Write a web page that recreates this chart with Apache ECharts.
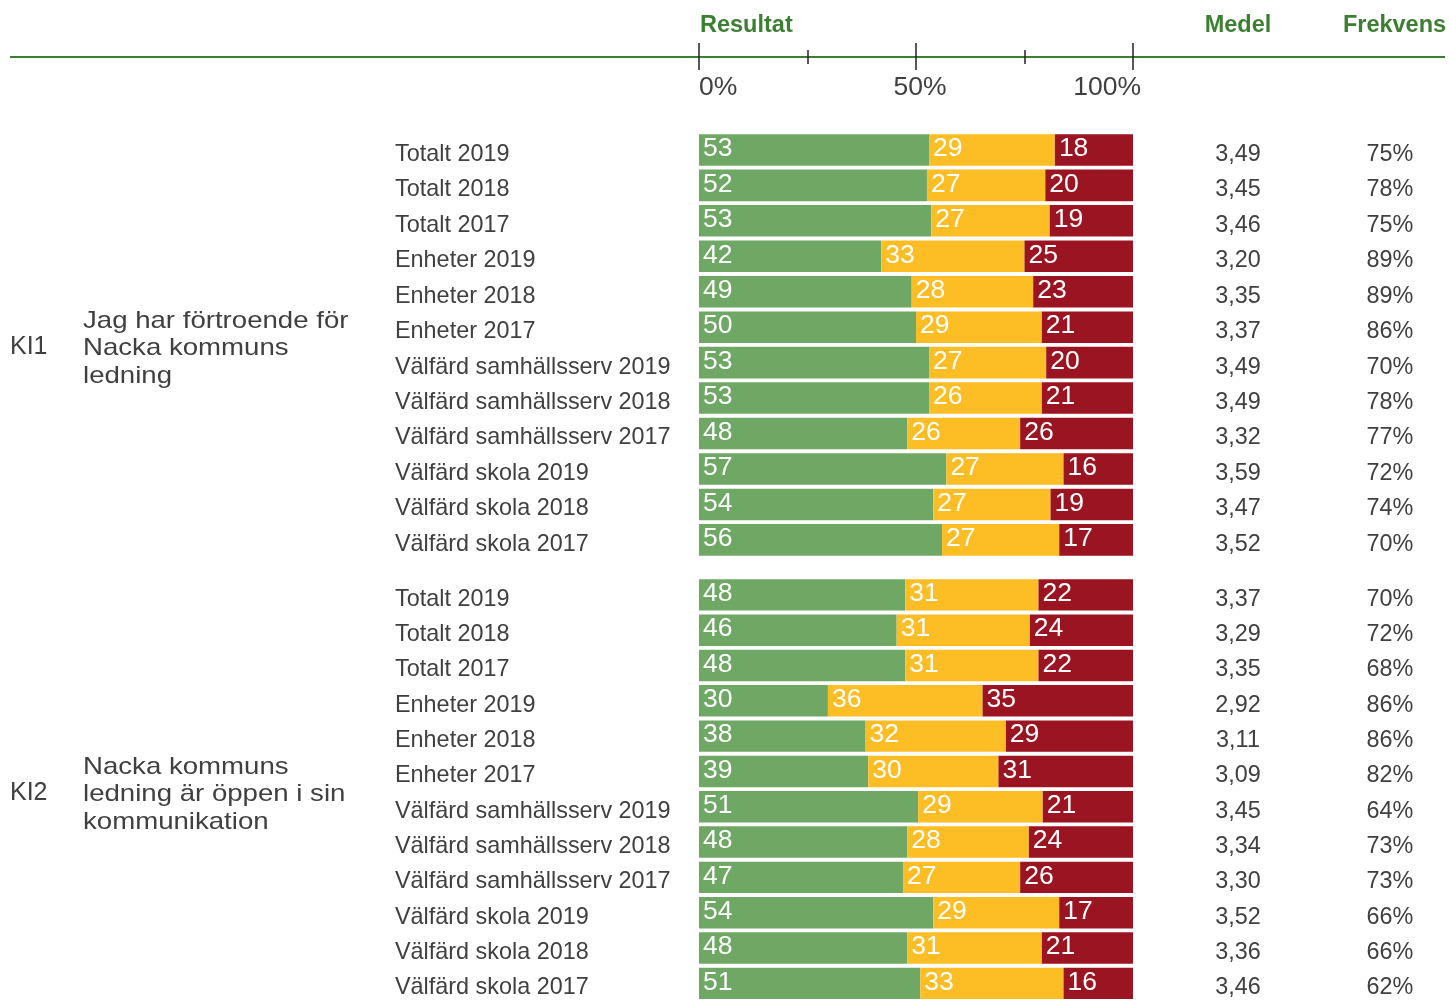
<!DOCTYPE html>
<html>
<head>
<meta charset="utf-8">
<script src="https://cdn.jsdelivr.net/npm/echarts@6/dist/echarts.min.js"></script>
<style>
  html, body { margin: 0; padding: 0; background: #fff; }
  #chart { width: 1449px; height: 1001px; }
</style>
</head>
<body>
<div id="chart"></div>
<script>
// rader (samma för båda frågorna)
const rows = [
  'Totalt 2019', 'Totalt 2018', 'Totalt 2017',
  'Enheter 2019', 'Enheter 2018', 'Enheter 2017',
  'Välfärd samhällsserv 2019', 'Välfärd samhällsserv 2018', 'Välfärd samhällsserv 2017',
  'Välfärd skola 2019', 'Välfärd skola 2018', 'Välfärd skola 2017',
]

// KI1 - Jag har förtroende för Nacka kommuns ledning
const ki1Green = [53, 52, 53, 42, 49, 50, 53, 53, 48, 57, 54, 56]
const ki1Yellow = [29, 27, 27, 33, 28, 29, 27, 26, 26, 27, 27, 27]
const ki1Red = [18, 20, 19, 25, 23, 21, 20, 21, 26, 16, 19, 17]
const ki1Medel = ['3,49', '3,45', '3,46', '3,20', '3,35', '3,37', '3,49', '3,49', '3,32', '3,59', '3,47', '3,52']
const ki1Frekvens = ['75%', '78%', '75%', '89%', '89%', '86%', '70%', '78%', '77%', '72%', '74%', '70%']

// KI2 - Nacka kommuns ledning är öppen i sin kommunikation
const ki2Green = [48, 46, 48, 30, 38, 39, 51, 48, 47, 54, 48, 51]
const ki2Yellow = [31, 31, 31, 36, 32, 30, 29, 28, 27, 29, 31, 33]
const ki2Red = [22, 24, 22, 35, 29, 31, 21, 24, 26, 17, 21, 16]
const ki2Medel = ['3,37', '3,29', '3,35', '2,92', '3,11', '3,09', '3,45', '3,34', '3,30', '3,52', '3,36', '3,46']
const ki2Frekvens = ['70%', '72%', '68%', '86%', '86%', '82%', '64%', '73%', '73%', '66%', '66%', '62%']

const scaleTicks = [0, 50, 100]

const GREEN = '#6fa865'
const YELLOW = '#fdbd24'
const RED = '#9b1421'
const HEAD = '#3d7f32'
const TEXT = '#404040'
const FONT = 'Liberation Sans, Arial, sans-serif'

const chart = echarts.init(document.getElementById('chart'))

// segmenten fyller alltid hela stapeln (avrundade procent kan summera till 99/101)
const share = (g, y, r) => {
  const out = [[], [], []]
  g.forEach((v, i) => {
    const tot = g[i] + y[i] + r[i]
    out[0].push({ value: (g[i] / tot) * 100, raw: g[i] })
    out[1].push({ value: (y[i] / tot) * 100, raw: y[i] })
    out[2].push({ value: (r[i] / tot) * 100, raw: r[i] })
  })
  return out
}

const groups = [
  { top: 132.2, height: 425.4, data: share(ki1Green, ki1Yellow, ki1Red), medel: ki1Medel, frek: ki1Frekvens },
  { top: 577.2, height: 426.6, data: share(ki2Green, ki2Yellow, ki2Red), medel: ki2Medel, frek: ki2Frekvens },
]

const grid = []
const xAxis = []
const yAxis = []
const series = []

// texten sitter lite under stapelns mitt i originalet
const sideLabel = (margin, align) => ({
  show: true,
  margin: margin,
  align: align,
  formatter: (v) => '{a|' + v + '}',
  rich: {
    a: { fontSize: 23.4, fontFamily: FONT, color: TEXT, padding: [9, 0, 0, 0] },
  },
})

groups.forEach((g, gi) => {
  grid.push({ left: 699, width: 434, top: g.top, height: g.height })
  xAxis.push({ gridIndex: gi, type: 'value', min: 0, max: 100, show: false })
  const base = yAxis.length
  yAxis.push({
    gridIndex: gi, type: 'category', data: rows, inverse: true, position: 'left',
    axisLine: { show: false }, axisTick: { show: false },
    axisLabel: sideLabel(304, 'left'),
  })
  yAxis.push({
    gridIndex: gi, type: 'category', data: g.medel, inverse: true, position: 'right',
    axisLine: { show: false }, axisTick: { show: false },
    axisLabel: sideLabel(105, 'center'),
  })
  yAxis.push({
    gridIndex: gi, type: 'category', data: g.frek, inverse: true, position: 'right',
    axisLine: { show: false }, axisTick: { show: false },
    axisLabel: sideLabel(257, 'center'),
  })
  ;[GREEN, YELLOW, RED].forEach((c, k) => {
    series.push({
      type: 'bar',
      stack: 'g' + gi,
      xAxisIndex: gi,
      yAxisIndex: base,
      barCategoryGap: '11%',
      itemStyle: { color: c },
      data: g.data[k],
      silent: true,
      label: {
        show: true,
        position: 'insideLeft',
        distance: 4,
        offset: [0, -1],
        color: '#fff',
        fontSize: 26.5,
        fontFamily: FONT,
        formatter: (p) => String(p.data.raw),
      },
    })
  })
})

// skala överst: streck (grid 2) och etiketter (grid 3)
grid.push({ left: 699, width: 434, top: 57, height: 0 })
grid.push({ left: 699, width: 442, top: 57, height: 0 })
const tickAxis = (pos) => ({
  gridIndex: 2, type: 'value', position: pos, min: 0, max: 100, interval: 50,
  axisLine: { show: false },
  axisTick: { show: true, length: pos === 'top' ? 14 : 13, lineStyle: { color: '#222', width: 1.5 } },
  minorTick: { show: true, splitNumber: 2, length: 7, lineStyle: { color: '#222', width: 1.5 } },
  splitLine: { show: false },
  axisLabel: { show: false },
})
const tickIdx = xAxis.length
xAxis.push(tickAxis('bottom'))
xAxis.push(tickAxis('top'))
const labelIdx = xAxis.length
xAxis.push({
  gridIndex: 3, type: 'value', position: 'bottom', min: 0, max: 100, interval: 50,
  axisLine: { show: false }, axisTick: { show: false }, splitLine: { show: false },
  axisLabel: {
    show: true, margin: 17, fontSize: 26.5, fontFamily: FONT, color: TEXT,
    alignMinLabel: 'left', alignMaxLabel: 'right',
    customValues: scaleTicks,
    formatter: '{value}%',
  },
})
yAxis.push({ gridIndex: 2, type: 'value', show: false })
series.push({ type: 'line', xAxisIndex: tickIdx, yAxisIndex: yAxis.length - 1, data: [], silent: true })
yAxis.push({ gridIndex: 3, type: 'value', show: false })
series.push({ type: 'line', xAxisIndex: labelIdx, yAxisIndex: yAxis.length - 1, data: [], silent: true })

const headFont = 'bold 23.5px ' + FONT

const blockText = (y, code, lines) => ([
  { type: 'text', x: 10, y: y, style: { text: code, fill: TEXT, font: '25px ' + FONT, textVerticalAlign: 'middle' } },
  {
    type: 'text', x: 83, y: y + 1.5, scaleX: 1.15, originX: 0, originY: 0,
    style: { text: lines, fill: TEXT, font: '24px ' + FONT, lineHeight: 27.5, textVerticalAlign: 'middle' },
  },
])

const option = {
  animation: false,
  backgroundColor: '#fff',
  grid: grid,
  xAxis: xAxis,
  yAxis: yAxis,
  series: series,
  graphic: [
    { type: 'line', shape: { x1: 10, y1: 57, x2: 1445, y2: 57 }, style: { stroke: HEAD, lineWidth: 2 }, z: 0 },
    { type: 'text', x: 700, y: 25.5, style: { text: 'Resultat', fill: HEAD, font: headFont, textVerticalAlign: 'middle' } },
    { type: 'text', x: 1238, y: 25.5, style: { text: 'Medel', fill: HEAD, font: headFont, textAlign: 'center', textVerticalAlign: 'middle' } },
    { type: 'text', x: 1394.5, y: 25.5, style: { text: 'Frekvens', fill: HEAD, font: headFont, textAlign: 'center', textVerticalAlign: 'middle' } },
    ...blockText(347, 'KI1', 'Jag har förtroende för\nNacka kommuns\nledning'),
    ...blockText(793, 'KI2', 'Nacka kommuns\nledning är öppen i sin\nkommunikation'),
  ],
}

chart.setOption(option)
</script>
</body>
</html>
